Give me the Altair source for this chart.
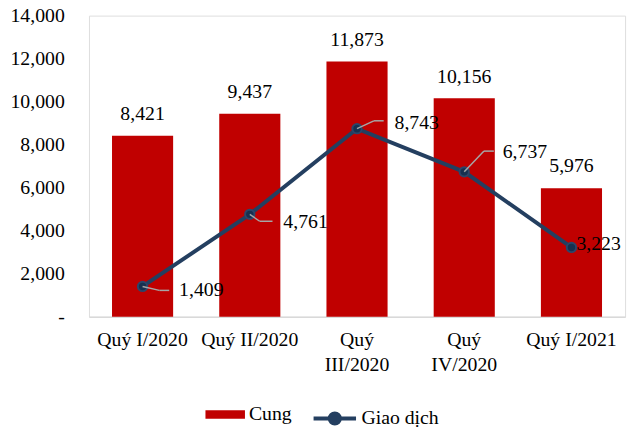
import altair as alt
import pandas as pd

categories = ["Quý I/2020", "Quý II/2020", "Quý III/2020", "Quý IV/2020", "Quý I/2021"]
cung = [8421, 9437, 11873, 10156, 5976]
giao_dich = [1409, 4761, 8743, 6737, 3223]
y_ticks = [0, 2000, 4000, 6000, 8000, 10000, 12000, 14000]

df = pd.DataFrame({
    "cat": categories,
    "cung": cung,
    "gd": giao_dich,
    "s1": ["Cung"] * len(categories),
    "s2": ["Giao dịch"] * len(categories),
})

FONT = "Liberation Serif"
RED = "#C00000"
NAVY = "#243F60"
LEADER = "#A6A6A6"

x_enc = alt.X(
    "cat:N",
    sort=categories,
    title=None,
    scale=alt.Scale(paddingInner=0.43, paddingOuter=0.215),
    axis=alt.Axis(
        labelAngle=0,
        ticks=False,
        domainColor="#D9D9D9",
        domainWidth=1.5,
        labelFont=FONT,
        labelFontSize=20,
        labelColor="black",
        labelPadding=13,
        labelLineHeight=25,
        labelExpr="(datum.value == 'Quý III/2020' || datum.value == 'Quý IV/2020') ? split(datum.value, ' ') : datum.value",
    ),
)

y_scale = alt.Scale(domain=[0, 14000], nice=False)

bars = alt.Chart(df).mark_bar().encode(
    x=x_enc,
    y=alt.Y(
        "cung:Q",
        scale=y_scale,
        title=None,
        axis=alt.Axis(
            values=y_ticks,
            grid=False,
            domain=False,
            ticks=False,
            labelFont=FONT,
            labelFontSize=20,
            labelColor="black",
            labelPadding=25,
            labelExpr="datum.value == 0 ? '-\u00a0\u00a0' : format(datum.value, ',')",
        ),
    ),
    color=alt.Color(
        "s1:N",
        scale=alt.Scale(domain=["Cung"], range=[RED]),
        legend=alt.Legend(
            title=None,
            orient="none",
            legendX=118,
            legendY=384,
            padding=0,
            symbolType="M-1,-0.22H1V0.22H-1Z",
            symbolSize=1600,
            symbolStrokeWidth=0,
            labelFont=FONT,
            labelFontSize=20,
            labelColor="black",
            labelOffset=4,
        ),
    ),
)

bar_labels = alt.Chart(df).mark_text(
    font=FONT, fontSize=20, color="black", baseline="middle", align="center", dy=-22
).encode(x=alt.X("cat:N", sort=categories), y=alt.Y("cung:Q", scale=y_scale), text=alt.Text("cung:Q", format=","))

line = alt.Chart(df).mark_line(strokeWidth=4).encode(
    x=alt.X("cat:N", sort=categories),
    y=alt.Y("gd:Q", scale=y_scale),
    color=alt.Color(
        "s2:N",
        scale=alt.Scale(domain=["Giao dịch"], range=[NAVY]),
        legend=alt.Legend(
            title=None,
            orient="none",
            legendX=225,
            legendY=384,
            padding=0,
            symbolType="M-1,0H1M-0.24,0A0.24,0.24,0,1,0,0.24,0A0.24,0.24,0,1,0,-0.24,0Z",
            symbolSize=1850,
            symbolStrokeWidth=4,
            symbolFillColor=NAVY,
            labelFont=FONT,
            labelFontSize=20,
            labelColor="black",
            labelOffset=3,
        ),
    ),
)

points = alt.Chart(df).mark_circle(
    size=90, color="#17304F", stroke="#2B466A", strokeWidth=2, opacity=1
).encode(x=alt.X("cat:N", sort=categories), y=alt.Y("gd:Q", scale=y_scale))

# label placement style for the "Giao dịch" data labels: (bend dx, bend dy, end dx, text dx, text dy)
label_style = [
    (17, 4, 27, 37, 4),
    (10, 7, 23, 34, 8),
    (17, -8, 27, 38, -6),
    (20, -21, 30, 39, -20),
    (None, None, None, 5, -3),
]

layers = [bars, bar_labels, line, points]
for i, (bx, by, ex, tx, ty) in enumerate(label_style):
    base = alt.Chart(df).transform_filter(alt.datum.cat == categories[i])
    enc = dict(
        x=alt.X("cat:N", sort=categories),
        y=alt.Y("gd:Q", scale=y_scale),
        x2="cat:N",
        y2="gd:Q",
    )
    if bx is not None:
        layers.append(
            base.mark_rule(color=LEADER, strokeWidth=1.5, x2Offset=bx, y2Offset=by).encode(**enc)
        )
        layers.append(
            base.mark_rule(color=LEADER, strokeWidth=1.5, xOffset=bx, yOffset=by, x2Offset=ex, y2Offset=by).encode(**enc)
        )
    layers.append(
        base.mark_text(
            font=FONT, fontSize=20, color="black", align="left", baseline="middle", dx=tx, dy=ty
        ).encode(
            x=alt.X("cat:N", sort=categories),
            y=alt.Y("gd:Q", scale=y_scale),
            text=alt.Text("gd:Q", format=","),
        )
    )

chart = (
    alt.layer(*layers)
    .resolve_scale(color="independent")
    .resolve_legend(color="independent")
    .properties(
        width=543,
        height=305,
        autosize=alt.AutoSizeParams(type="none"),
        padding={"left": 82, "top": 5, "right": 6, "bottom": 114},
    )
    .configure_view(stroke=None)
    .configure(font=FONT)
)

chart.save("out.html", embed_options={"renderer": "svg", "actions": False})
